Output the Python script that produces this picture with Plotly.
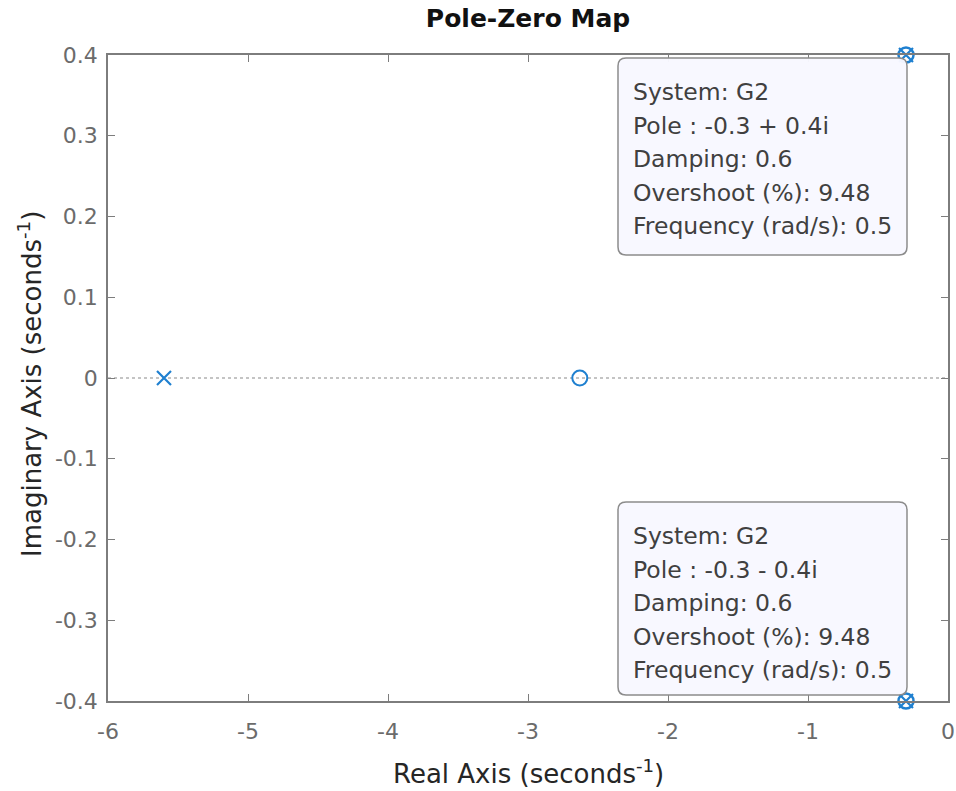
import plotly.graph_objects as go

# Pole-zero data for system G2
pole_re = [-5.6, -0.3, -0.3]
pole_im = [0.0, 0.4, -0.4]
zero_re = [-2.63]
zero_im = [0.0]

x_ticks = [-6, -5, -4, -3, -2, -1, 0]
y_ticks = [0.4, 0.3, 0.2, 0.1, 0, -0.1, -0.2, -0.3, -0.4]

# Data tip contents for the complex pole pair
tip_top = ["System: G2", "Pole : -0.3 + 0.4i", "Damping: 0.6",
           "Overshoot (%): 9.48", "Frequency (rad/s): 0.5"]
tip_bot = ["System: G2", "Pole : -0.3 - 0.4i", "Damping: 0.6",
           "Overshoot (%): 9.48", "Frequency (rad/s): 0.5"]

BLUE = "#1f80d0"
AXC = "#7d7d7d"
TXT = "#6b6b6b"
FONT = "DejaVu Sans, Liberation Sans, sans-serif"

W, H = 956, 791
L, R, T, B = 108, 8, 55, 90
PW, PH = W - L - R, H - T - B


def px(xp):
    return (xp - L) / PW


def py(yp):
    return (H - B - yp) / PH


fig = go.Figure()

# real axis reference line
fig.add_shape(type="line", xref="x", yref="y", x0=-6, x1=0, y0=0, y1=0,
              line=dict(color="#8a8a8a", width=1.2, dash="dot"), layer="below")

fig.add_trace(go.Scatter(x=zero_re, y=zero_im, mode="markers",
                         marker=dict(symbol="circle-open", size=15, color=BLUE,
                                     line=dict(width=2, color=BLUE)),
                         showlegend=False))
fig.add_trace(go.Scatter(x=pole_re, y=pole_im, mode="markers",
                         marker=dict(symbol="x-thin-open", size=14, color=BLUE,
                                     line=dict(width=2.2, color=BLUE)),
                         showlegend=False, cliponaxis=False))
# data tip highlight on the selected poles
fig.add_trace(go.Scatter(x=pole_re[1:], y=pole_im[1:], mode="markers",
                         marker=dict(symbol="circle-open", size=15, color=BLUE,
                                     line=dict(width=2.5, color=BLUE)),
                         showlegend=False, cliponaxis=False))


def rounded_box(x0, y0, x1, y1, r=8):
    # rounded rectangle path in pixel space, converted to paper coords
    def P(x, y):
        return f"{px(x):.5f},{py(y):.5f}"
    return (f"M {P(x0 + r, y0)} L {P(x1 - r, y0)} Q {P(x1, y0)} {P(x1, y0 + r)} "
            f"L {P(x1, y1 - r)} Q {P(x1, y1)} {P(x1 - r, y1)} "
            f"L {P(x0 + r, y1)} Q {P(x0, y1)} {P(x0, y1 - r)} "
            f"L {P(x0, y0 + r)} Q {P(x0, y0)} {P(x0 + r, y0)} Z")


def add_tip(lines, top, left=618, right=907, bottom=None, first=92, step=33.6):
    fig.add_shape(type="path", xref="paper", yref="paper",
                  path=rounded_box(left, top, right, bottom),
                  fillcolor="rgba(248,248,255,0.97)",
                  line=dict(color="#8c8c8c", width=1.5), layer="above")
    for i, s in enumerate(lines):
        fig.add_annotation(xref="paper", yref="paper", x=px(631), y=py(first + i * step),
                           xanchor="left", yanchor="middle", text=s, showarrow=False,
                           font=dict(family=FONT, size=23.5, color="#404040"))


add_tip(tip_top, top=58, bottom=255, first=92)
add_tip(tip_bot, top=502, bottom=695, first=536)

# axis titles
fig.add_annotation(xref="paper", yref="paper", x=px(528), y=py(772),
                   xanchor="center", yanchor="middle", showarrow=False,
                   text="Real Axis (seconds<sup>-1</sup>)",
                   font=dict(family=FONT, size=26, color="#262626"))
fig.add_annotation(xref="paper", yref="paper", x=px(30), y=py(384),
                   xanchor="center", yanchor="middle", showarrow=False, textangle=-90,
                   text="Imaginary Axis (seconds<sup>-1</sup>)",
                   font=dict(family=FONT, size=26, color="#262626"))

axis_common = dict(showgrid=False, zeroline=False, showline=True, linecolor=AXC,
                   linewidth=1.5, mirror="allticks", ticks="inside", ticklen=7,
                   tickwidth=1.2, tickcolor=AXC, automargin=False,
                   tickfont=dict(family=FONT, size=22, color=TXT))

fig.update_xaxes(range=[-6, 0], tickvals=x_ticks,
                 ticktext=[str(v) for v in x_ticks], ticklabelstandoff=10,
                 **axis_common)
fig.update_yaxes(range=[-0.4, 0.4], tickvals=y_ticks,
                 ticktext=[("%g" % v) for v in y_ticks], ticklabelstandoff=4,
                 **axis_common)

fig.update_layout(
    width=W, height=H,
    margin=dict(l=L, r=R, t=T, b=B),
    paper_bgcolor="white", plot_bgcolor="white",
    title=dict(text="<b>Pole-Zero Map</b>", xref="paper", x=0.5, xanchor="center",
               yref="container", y=1 - 18 / H, yanchor="middle",
               font=dict(family=FONT, size=25, color="#111111")),
)

fig.write_html("out.html")
